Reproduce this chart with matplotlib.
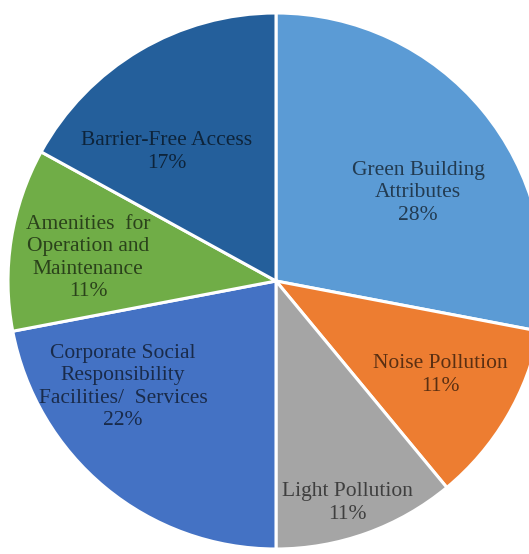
import numpy as np
import matplotlib.pyplot as plt

# Data
labels = ["Green Building\nAttributes", "Noise Pollution", "Light Pollution",
          "Corporate Social\nResponsibility\nFacilities/  Services",
          "Amenities  for\nOperation and\nMaintenance", "Barrier-Free Access"]
shares = [28, 11, 11, 22, 11, 17]

colors = ["#5B9BD5", "#ED7D31", "#A5A5A5", "#4472C4", "#70AD47", "#245F9B"]

# label centres in pie units (radius = 1), hand placed like the original
label_xy = [(0.53, 0.33), (0.612, -0.351), (0.265, -0.828),
            (-0.571, -0.396), (-0.701, 0.086), (-0.407, 0.481)]

# pie centre and radius in pixels, used to frame the axes
W, H = 529, 554
cx, cy, r = 276, 281, 268


def main():
    fig = plt.figure(figsize=(W / 100, H / 100), dpi=100)
    ax = fig.add_axes([0, 0, 1, 1])

    ax.pie(shares, colors=colors, startangle=90, counterclock=False,
           radius=1, wedgeprops=dict(edgecolor="white", linewidth=2.2))

    for lab, val, (x, y) in zip(labels, shares, label_xy):
        ax.text(x, y, f"{lab}\n{val}%", ha="center", va="center",
                family="Liberation Serif", fontsize=15.5, linespacing=1.25,
                color="black", alpha=0.62)

    ax.set_xlim(-cx / r, (W - cx) / r)
    ax.set_ylim(-(H - cy) / r, cy / r)
    ax.set_aspect("auto")
    ax.axis("off")

    fig.savefig("out.png", dpi=100, facecolor="white")


if __name__ == "__main__":
    main()
